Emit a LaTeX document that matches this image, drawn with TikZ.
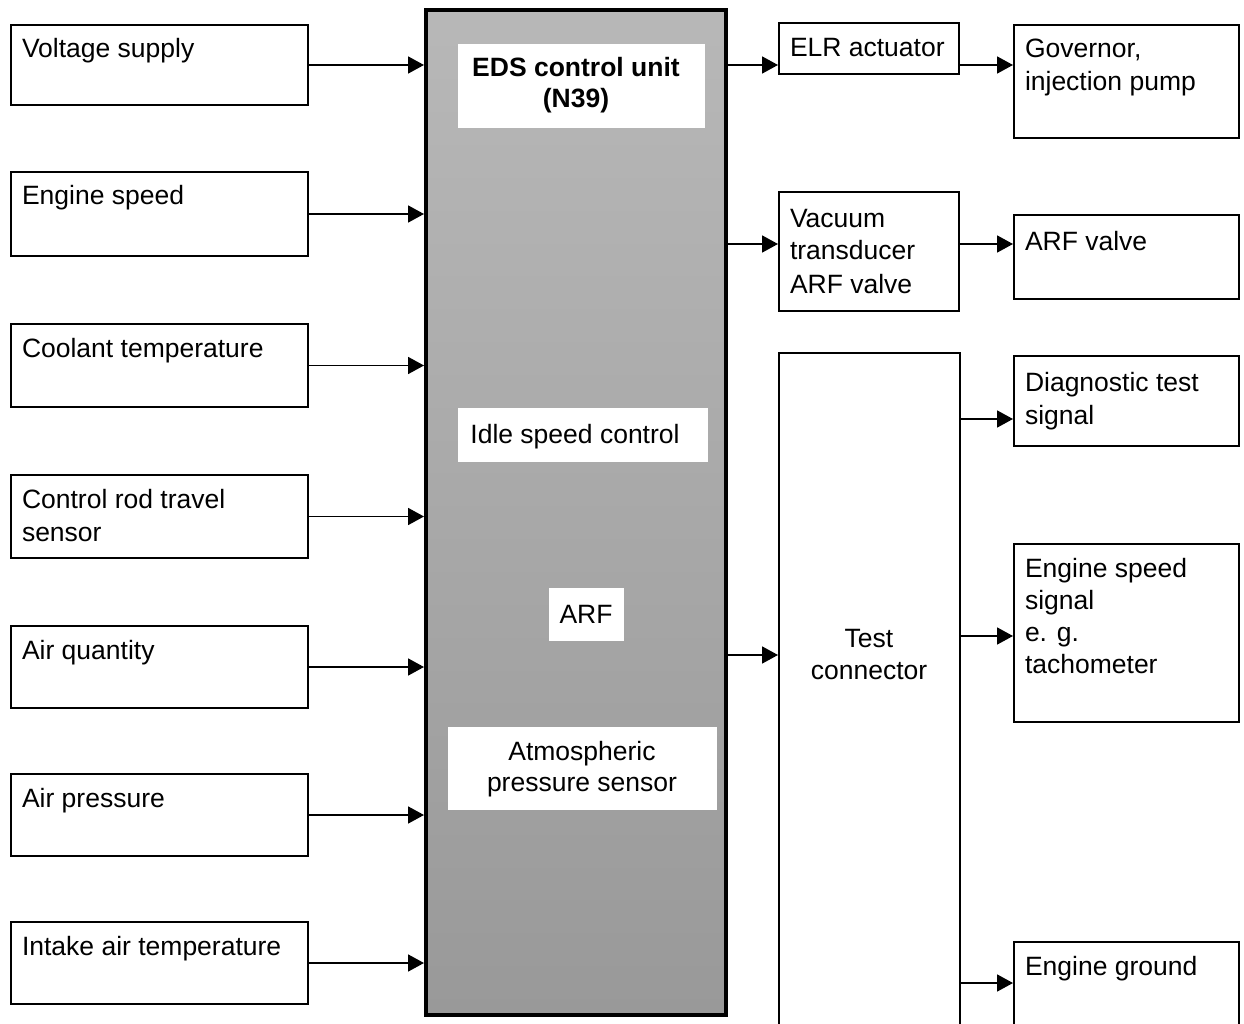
\documentclass[tikz,border=0pt]{standalone}
\usepackage{fontspec}
\setmainfont{Liberation Sans}
\usetikzlibrary{arrows.meta}
\tikzset{
  box/.style={draw, line width=2pt, rectangle, inner sep=0pt, anchor=north west},
  cbox/.style={draw, line width=4pt, rectangle, inner sep=0pt, anchor=north west,
    top color=black!28, middle color=black!44, bottom color=black!40},
  wbox/.style={fill=white, draw=none, rectangle, inner sep=0pt, outer sep=0pt, anchor=north west},
  lbl/.style={font=\fontsize{26.5}{33}\selectfont, inner sep=0pt, outer sep=0pt, anchor=base west, align=left},
  clbl/.style={font=\fontsize{26.5}{32}\selectfont, inner sep=0pt, outer sep=0pt, anchor=base, align=center},
  arr/.style={line width=1.8pt, -{Triangle[length=16pt,width=17pt]}},
}
\begin{document}
\begin{tikzpicture}[x=1pt,y=-1pt]
\useasboundingbox (0,0) rectangle (1244,1024);
\clip (0,0) rectangle (1244,1024);
\fill[white] (0,0) rectangle (1244,1024);

% left input boxes
\node[box, minimum width=297pt, minimum height=80pt] (vs) at (10,24) {};
\node[box, minimum width=297pt, minimum height=84pt] (es) at (10,171) {};
\node[box, minimum width=297pt, minimum height=83pt] (ct) at (10,323) {};
\node[box, minimum width=297pt, minimum height=83pt] (cr) at (10,474) {};
\node[box, minimum width=297pt, minimum height=82pt] (aq) at (10,625) {};
\node[box, minimum width=297pt, minimum height=82pt] (ap) at (10,773) {};
\node[box, minimum width=297pt, minimum height=82pt] (ia) at (10,921) {};

% (multi-line labels are anchored at the baseline of their last line)
\node[lbl] (vst) at (22,58) {Voltage supply};
\node[lbl] (est) at (22,205) {Engine speed};
\node[lbl] (ctt) at (22,357) {Coolant temperature};
\node[lbl] (crt) at (22,541) {Control rod travel\\sensor};
\node[lbl] (aqt) at (22,659) {Air quantity};
\node[lbl] (apt) at (22,807) {Air pressure};
\node[lbl] (iat) at (22,955) {Intake air temperature};

% central control unit
\node[cbox, minimum width=300pt, minimum height=1005pt] (ctr) at (424,8) {};
\node[wbox, minimum width=247pt, minimum height=84pt] (edsw) at (458,44) {};
\node[wbox, minimum width=250pt, minimum height=54pt] (idw) at (458,408) {};
\node[wbox, minimum width=75pt, minimum height=53pt] (arfw) at (549,588) {};
\node[wbox, minimum width=269pt, minimum height=83pt] (atmw) at (448,727) {};
\node[clbl, font=\fontsize{26.5}{31}\selectfont\bfseries] (edst) at (576,108) {EDS control unit\\(N39)};
\node[clbl] (idt) at (575,443) {Idle speed control};
\node[clbl] (arft) at (586,623) {ARF};
\node[clbl, font=\fontsize{26.5}{31}\selectfont] (atmt) at (582,791) {Atmospheric\\pressure sensor};

% right column 1
\node[box, minimum width=180pt, minimum height=51pt] (elr) at (778,22) {};
\node[box, minimum width=180pt, minimum height=119pt] (vac) at (778,191) {};
\node[box, minimum width=181pt, minimum height=690pt] (tc) at (778,352) {};
\node[lbl] (elrt) at (790,57) {ELR actuator};
\node[lbl] (vact) at (790,293) {Vacuum\\transducer\\ARF valve};
\node[clbl] (tct) at (869,679) {Test\\connector};

% right column 2
\node[box, minimum width=225pt, minimum height=113pt] (gov) at (1013,24) {};
\node[box, minimum width=225pt, minimum height=84pt] (arfv) at (1013,214) {};
\node[box, minimum width=225pt, minimum height=90pt] (diag) at (1013,355) {};
\node[box, minimum width=225pt, minimum height=178pt] (ess) at (1013,543) {};
\node[box, minimum width=225pt, minimum height=100pt] (gnd) at (1013,941) {};
\node[lbl] (govt) at (1025,91) {Governor,\\injection pump};
\node[lbl] (arfvt) at (1025,251) {ARF valve};
\node[lbl] (diagt) at (1025,424) {Diagnostic test\\signal};
\node[lbl, font=\fontsize{26.5}{32}\selectfont] (esst) at (1025,673) {Engine speed\\signal\\e. g.\\tachometer};
\node[lbl] (gndt) at (1025,975) {Engine ground};

% connector heights
\coordinate (yv) at (0,244);
\coordinate (yt) at (0,655);
\coordinate (yd) at (0,419);
\coordinate (ye) at (0,636);
\coordinate (yg) at (0,983);

% inputs
\foreach \n in {vs,es,ct,cr,aq,ap,ia}
  \draw[arr] (\n.east) -- (\n.east -| ctr.west);

% outputs
\draw[arr] (ctr.east |- vs.east) -- (elr.west |- vs.east);
\draw[arr] (elr.east |- vs.east) -- (gov.west |- vs.east);
\draw[arr] (ctr.east |- yv) -- (vac.west |- yv);
\draw[arr] (vac.east |- yv) -- (arfv.west |- yv);
\draw[arr] (ctr.east |- yt) -- (tc.west |- yt);
\draw[arr] (tc.east |- yd) -- (diag.west |- yd);
\draw[arr] (tc.east |- ye) -- (ess.west |- ye);
\draw[arr] (tc.east |- yg) -- (gnd.west |- yg);
\end{tikzpicture}
\end{document}
